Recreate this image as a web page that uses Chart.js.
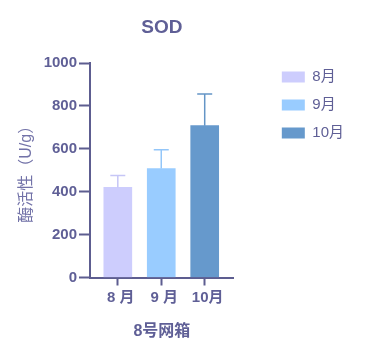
<!DOCTYPE html>
<html>
<head>
<meta charset="utf-8">
<script src="https://cdn.jsdelivr.net/npm/chart.js@4.4.1/dist/chart.umd.min.js"></script>
<style>
  html, body { margin: 0; padding: 0; background: #ffffff; }
  #wrap { width: 372px; height: 358px; position: relative; }
</style>
</head>
<body>
<div id="wrap"><canvas id="c" width="372" height="358"></canvas></div>
<script>
// ---- data ----
const months = ['8月', '9月', '10月'];
const xTickLabels = ['8 月', '9 月', '10月'];
const sodMean = [420, 508, 708];
const sodErr = [56, 87, 148];
const yTicks = [0, 200, 400, 600, 800, 1000];
const chartTitle = 'SOD';
const yTitle = '酶活性（U/g）';
const xTitle = '8号网箱';

// ---- styles ----
const barColors = ['#CDCDFD', '#99CCFF', '#6699CC'];
const errColors = ['#C6C6F6', '#93C6F9', '#6495C6'];
const axisColor = '#5D5D90';
const textColor = '#5F5F96';
const yTitleColor = '#7272A8';
const FONT = '"Liberation Sans", Arial, "Noto Sans CJK SC", sans-serif';

const datasets = months.map((m, i) => ({
  label: m,
  data: [{ x: i, y: sodMean[i] }],
  backgroundColor: barColors[i],
  borderColor: barColors[i],
  borderWidth: 0,
  barThickness: 28,
  grouped: false
}));

const errorBarPlugin = {
  id: 'errorBars',
  afterDatasetsDraw(chart) {
    const ctx = chart.ctx;
    const ys = chart.scales.y;
    ctx.save();
    chart.data.datasets.forEach((ds, i) => {
      const meta = chart.getDatasetMeta(i);
      if (meta.hidden) return;
      const bar = meta.data[0];
      const x = bar.x;
      const top = ys.getPixelForValue(sodMean[i] + sodErr[i]);
      ctx.strokeStyle = errColors[i];
      ctx.lineWidth = 1.5;
      ctx.beginPath();
      ctx.moveTo(x, bar.y);
      ctx.lineTo(x, top);
      ctx.moveTo(x - 7.5, top);
      ctx.lineTo(x + 7.5, top);
      ctx.stroke();
    });
    ctx.restore();
  }
};

new Chart(document.getElementById('c'), {
  type: 'bar',
  data: { datasets },
  plugins: [errorBarPlugin],
  options: {
    responsive: false,
    animation: false,
    devicePixelRatio: 1,
    layout: { padding: { left: 8, top: 0, right: 18, bottom: 10.5 } },
    plugins: {
      title: {
        display: true,
        text: chartTitle,
        fullSize: false,
        color: textColor,
        font: { family: FONT, size: 19, weight: 'bold' },
        padding: { top: 16.6, bottom: 23.6 }
      },
      legend: {
        display: true,
        position: 'right',
        align: 'start',
        maxWidth: 86,
        title: { display: true, text: '', font: { size: 10 }, padding: { top: 44.5, bottom: 0 } },
        labels: {
          boxWidth: 23,
          boxHeight: 11,
          padding: 13,
          color: textColor,
          font: { family: FONT, size: 15 }
        }
      },
      tooltip: { enabled: false }
    },
    scales: {
      x: {
        type: 'linear',
        position: 'bottom',
        min: -0.64,
        max: 2.67,
        offset: false,
        afterBuildTicks: (s) => { s.ticks = months.map((m, i) => ({ value: i })); },
        afterFit: (s) => { s.height = 70; },
        ticks: {
          color: textColor,
          font: { family: FONT, size: 15, weight: 'bold' },
          padding: 3,
          labelOffset: 3,
          autoSkip: false,
          maxRotation: 0,
          callback: (v) => xTickLabels[v]
        },
        grid: {
          display: true,
          drawOnChartArea: false,
          drawTicks: true,
          offset: false,
          tickLength: 8,
          tickWidth: 2,
          color: axisColor
        },
        border: { display: true, color: axisColor, width: 2 },
        title: {
          display: true,
          text: xTitle,
          color: textColor,
          font: { family: FONT, size: 16, weight: 'bold' },
          padding: { top: 0, bottom: 5.9 }
        }
      },
      y: {
        type: 'linear',
        position: 'left',
        min: 0,
        max: 1000,
        afterBuildTicks: (s) => { s.ticks = yTicks.map(v => ({ value: v })); },
        afterFit: (s) => { s.width = 82; },
        ticks: {
          color: textColor,
          font: { family: FONT, size: 15, weight: 'bold' },
          padding: 2,
          callback: (v) => String(v)
        },
        grid: {
          display: true,
          drawOnChartArea: false,
          drawTicks: true,
          tickLength: 11,
          tickWidth: 2,
          color: axisColor
        },
        border: { display: true, color: axisColor, width: 2 },
        title: {
          display: true,
          text: yTitle,
          color: yTitleColor,
          font: { family: FONT, size: 16, weight: 'normal' },
          padding: { top: 9.4, bottom: 0 }
        }
      },
      spacer: {
        type: 'linear',
        position: 'right',
        display: true,
        afterFit: (s) => { s.width = 35; },
        ticks: { display: false },
        grid: { display: false, drawTicks: false },
        border: { display: false }
      }
    }
  }
});
</script>
</body>
</html>
